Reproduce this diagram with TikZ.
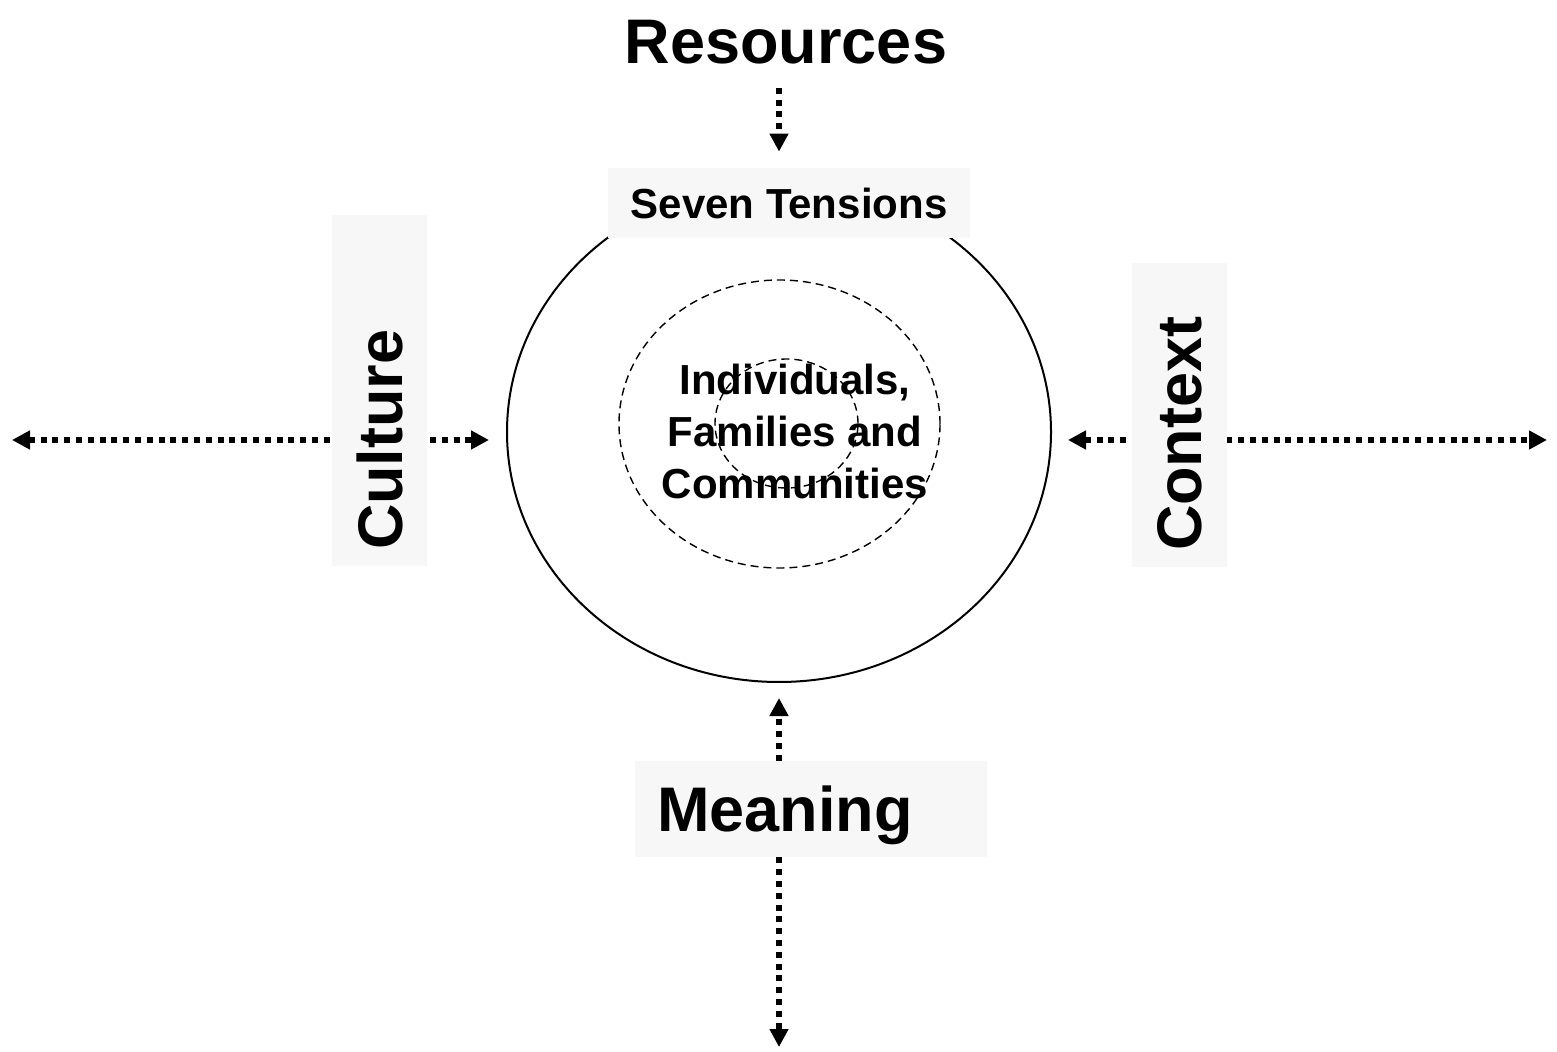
\documentclass[tikz,border=0pt]{standalone}
\usepackage{fontspec}
\setmainfont{Liberation Sans}
\usetikzlibrary{arrows.meta,backgrounds,shapes.geometric}
\definecolor{grisclair}{RGB}{247,247,247}

\begin{document}
\begin{tikzpicture}[x=0.5pt, y=-0.5pt,
		grand/.style={font=\bfseries\fontsize{31.5}{38}\selectfont},
		moyen/.style={font=\bfseries\fontsize{21}{26}\selectfont},
		boite/.style={fill=grisclair, draw=none},
		tirets/.style={draw, line width=0.7pt, dash pattern=on 4pt off 2.5pt},
		fleche/.style={line width=2.9pt, dash pattern=on 3pt off 2.9pt},
		>={Triangle[length=9pt,width=9pt]}]
	\useasboundingbox (0,0) rectangle (1557,1052);

	% Ellipse et cercles
	\node[ellipse, draw, line width=1pt, inner sep=0pt, minimum width=272pt, minimum height=250pt] (outer) at (779,432) {};
	\node[ellipse, tirets, inner sep=0pt, minimum width=160.5pt, minimum height=144pt] (mid) at (779.5,424) {};
	\node[ellipse, tirets, inner sep=0pt, minimum width=71.5pt, minimum height=64.5pt] (inner) at (786.5,423.5) {};
	\node[moyen, align=center, inner sep=0pt] (people) at (795,431) {Individuals,\\Families and\\Communities};

	% Titres
	\node[grand, inner sep=0pt] (resources) at (786,42.5) {Resources};
	\node[boite, moyen, minimum width=181pt, minimum height=35pt] (tensions) at (789,203) {Seven Tensions};
	\node[boite, grand, rotate=90, text width=159.5pt, inner xsep=8pt, minimum height=47.5pt, align=left] (culture) at (379.5,390.5) {Culture};
	\node[boite, grand, rotate=90, text width=136pt, inner xsep=8pt, minimum height=47.5pt, align=left] (context) at (1179.5,415) {Context};
	\node[boite, grand, text width=154pt, inner xsep=11pt, minimum height=48pt, align=left, text depth=0pt] (meaning) at (811,809) {Meaning};

	% Fleches pointillees
	\coordinate (bordG) at (12,440);
	\coordinate (bordD) at (1547,440);
	\coordinate (bas) at (779,1047);
	\begin{scope}[on background layer]
		\draw[fleche, ->, shorten <=11.5pt, shorten >=8pt] (resources.south -| outer.north) -- (tensions.north -| outer.north);
		\draw[fleche, <->, shorten >=8.5pt] (bordG) -- (bordG -| outer.west);
		\draw[fleche, <->, shorten <=8pt] (bordD -| outer.east) -- (bordD);
		\draw[fleche, ->, shorten >=7.5pt] (meaning.north -| outer.south) -- (outer.south);
		\draw[fleche, ->] (meaning.south -| outer.south) -- (bas);
	\end{scope}
\end{tikzpicture}
\end{document}
